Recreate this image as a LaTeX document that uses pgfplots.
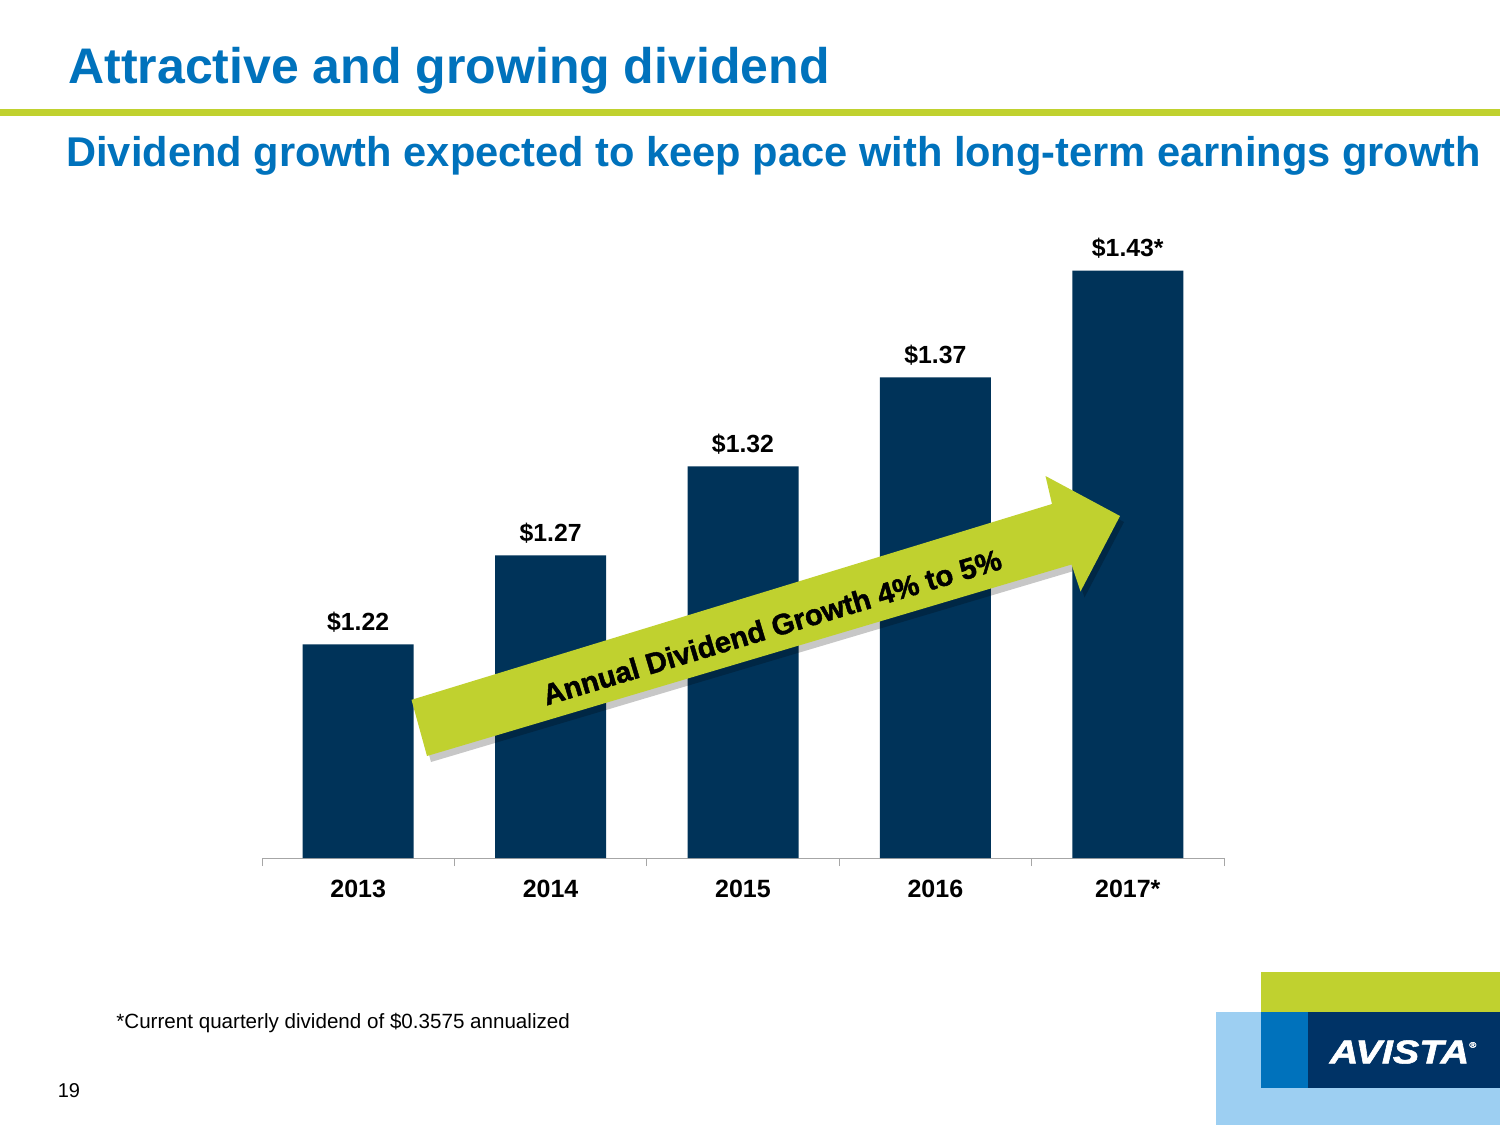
\documentclass[border=0pt]{standalone}
\usepackage{fontspec}
\setmainfont{Liberation Sans}
\newfontfamily\heavyfont[FakeBold=1.6]{Liberation Sans}
\usepackage{pgfplots}
\pgfplotsset{compat=1.18}
\definecolor{avblue}{HTML}{0072BC}
\definecolor{avgreen}{HTML}{C0D12F}
\definecolor{avnavy}{HTML}{003359}
\definecolor{avlight}{HTML}{9DCFF2}
\definecolor{avdark}{HTML}{003366}
\begin{document}
\begin{tikzpicture}
\begin{scope}[x=0.5pt,y=-0.5pt]
\fill[white] (0,0) rectangle (1500,1125);
\useasboundingbox (0,0) rectangle (1500,1125);
\node[anchor=base west, inner sep=0pt, text=avblue, font=\fontsize{25}{30}\selectfont\bfseries] at (68,83) {Attractive and growing dividend};
\fill[avgreen] (0,109) rectangle (1500,116);
\node[anchor=base west, inner sep=0pt, text=avblue, font=\fontsize{20.8}{25}\selectfont\bfseries] at (66,166) {Dividend growth expected to keep pace with long-term earnings growth};
\node[anchor=base west, inner sep=0pt, font=\fontsize{10.3}{12}\selectfont] at (116,1028) {*Current quarterly dividend of \$0.3575 annualized};
\node[anchor=base, inner sep=0pt, font=\fontsize{10}{12}\selectfont] at (69,1097) {19};
% logo block
\fill[avgreen] (1261,972) rectangle (1500,1012);
\fill[avlight] (1216,1012) rectangle (1500,1125);
\fill[avblue] (1261,1012) rectangle (1308,1088);
\fill[avdark] (1308,1012) rectangle (1500,1088);
\node[inner sep=0pt, text=white, font=\fontsize{16.5}{18}\selectfont\heavyfont\bfseries\itshape, xscale=1.2] at (1403,1052) {AVISTA\raisebox{0.9ex}{\fontsize{4}{5}\selectfont\textregistered}};
\end{scope}

\begin{axis}[
  at={(131pt,-429pt)}, anchor=south west,
  width=481pt, height=311.5pt, scale only axis,
  xmin=-0.5, xmax=4.5, ymin=1.10, ymax=1.45,
  axis y line=none, axis x line=bottom,
  x axis line style={-, draw=gray!70},
  xtick={0,1,2,3,4},
  xticklabels={2013,2014,2015,2016,2017*},
  minor xtick={-0.5,0.5,1.5,2.5,3.5,4.5},
  major tick length=0pt, minor tick length=4pt,
  tick align=outside,
  every tick/.style={draw=gray!70},
  xticklabel style={font=\fontsize{12.5}{14}\selectfont\bfseries, anchor=base, yshift=-19.5pt},
  ytick=\empty,
]
\addplot[ybar, bar width=55.5pt, fill=avnavy, draw=none,
  nodes near coords, point meta=explicit symbolic,
  every node near coord/.style={anchor=base, inner sep=0pt, yshift=7pt, font=\fontsize{12.4}{14}\selectfont\bfseries, text=black}]
coordinates {(0,1.22) [\$1.22] (1,1.27) [\$1.27] (2,1.32) [\$1.32] (3,1.37) [\$1.37] (4,1.43) [\$1.43*]};
\end{axis}

\begin{scope}[x=0.5pt,y=-0.5pt]
\fill[black, opacity=0.22] ([shift={(4,6)}]411.5,699.8) -- ([shift={(4,6)}]1052,504) -- ([shift={(4,6)}]1045.5,476) -- ([shift={(4,6)}]1120,516) -- ([shift={(4,6)}]1080.5,591.5) -- ([shift={(4,6)}]1071.5,564.5) -- ([shift={(4,6)}]427,756) -- cycle;
\fill[avgreen] (411.5,699.8) -- (1052,504) -- (1045.5,476) -- (1120,516) -- (1080.5,591.5) -- (1071.5,564.5) -- (427,756) -- cycle;
\node[rotate=16.7, inner sep=0pt, font=\fontsize{14.6}{16}\selectfont\heavyfont\bfseries] at (772,627) {Annual Dividend Growth 4\% to 5\%};
\end{scope}
\end{tikzpicture}
\end{document}
